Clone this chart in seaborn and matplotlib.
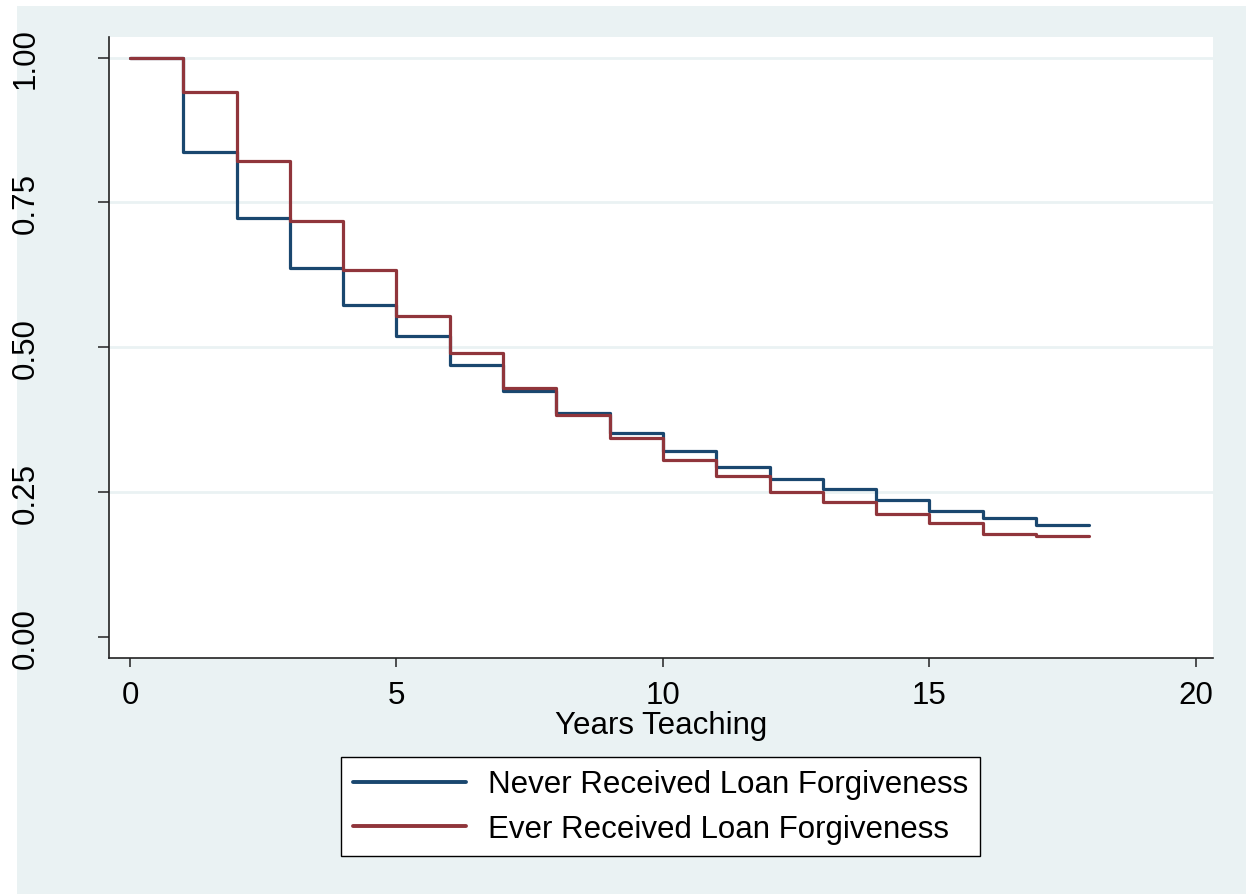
import numpy as np
import pandas as pd
import matplotlib
matplotlib.use("Agg")
import matplotlib.pyplot as plt
from matplotlib.patches import Rectangle
import seaborn as sns

# ---- data ----
years = list(range(0, 19))
never_vals = [1.000, 0.837, 0.724, 0.637, 0.573, 0.520, 0.470, 0.425, 0.387,
              0.353, 0.321, 0.293, 0.273, 0.255, 0.237, 0.218, 0.206, 0.194]
ever_vals = [1.000, 0.940, 0.821, 0.718, 0.634, 0.555, 0.491, 0.430, 0.383,
             0.343, 0.306, 0.279, 0.251, 0.233, 0.212, 0.197, 0.178, 0.174]
series_names = ["Never Received Loan Forgiveness", "Ever Received Loan Forgiveness"]
x_ticks = [0, 5, 10, 15, 20]
y_ticks = [0.00, 0.25, 0.50, 0.75, 1.00]
y_tick_labels = ["0.00", "0.25", "0.50", "0.75", "1.00"]
x_label = "Years Teaching"

rows = []
for name, vals in zip(series_names, [never_vals, ever_vals]):
    full = vals + [vals[-1]]
    for x, v in zip(years, full):
        rows.append({"year": x, "surv": v, "group": name})
df = pd.DataFrame(rows)

sns.set_style("white")
plt.rcParams["font.family"] = ["Liberation Sans", "DejaVu Sans"]
plt.rcParams["text.color"] = "black"
plt.rcParams["axes.labelcolor"] = "black"
plt.rcParams["xtick.color"] = "black"
plt.rcParams["ytick.color"] = "black"

FS = 22.5
BG = "#EAF2F3"
fig = plt.figure(figsize=(12.46, 8.95), dpi=100, facecolor="white")
fig.patches.append(Rectangle((17 / 1246, 0), 1 - 17 / 1246, 1 - 7 / 895,
                             transform=fig.transFigure, facecolor=BG,
                             edgecolor="none", zorder=-10))

W, H = 1246, 895
ax = fig.add_axes([109 / W, 1 - 659 / H, (1213 - 109) / W, (659 - 38) / H])
ax.set_facecolor("white")

sns.lineplot(data=df, x="year", y="surv", hue="group", hue_order=series_names,
             palette=["#1A476F", "#90353B"], estimator=None,
             drawstyle="steps-post", linewidth=2.3, ax=ax)

handles, labels = ax.get_legend_handles_labels()
ax.get_legend().remove()

ax.set_xlim(-0.394, 20.32)
ax.set_ylim(-0.0357, 1.0354)
ax.set_xticks(x_ticks)
ax.set_xticklabels([str(t) for t in x_ticks])
ax.set_yticks(y_ticks)
ax.set_yticklabels(y_tick_labels, rotation=90, va="center")

for yv in y_ticks[1:]:
    ax.axhline(yv, color=BG, linewidth=2.0, zorder=0)

for s in ["top", "right"]:
    ax.spines[s].set_visible(False)
for s in ["left", "bottom"]:
    ax.spines[s].set_color("#222222")
    ax.spines[s].set_linewidth(1.2)

ax.tick_params(axis="x", direction="out", length=6.5, width=1.1, color="#222222",
               labelsize=FS, labelcolor="black", pad=9, bottom=True)
ax.tick_params(axis="y", direction="out", length=8, width=1.1, color="#222222",
               labelsize=FS, labelcolor="black", pad=41, left=True)
ax.set_xlabel(x_label, fontsize=FS, labelpad=0, color="black")
ax.set_ylabel("")

leg = fig.legend(handles, labels, loc="center",
                 bbox_to_anchor=(660.5 / W, 1 - 807.5 / H),
                 fontsize=FS, frameon=True, fancybox=False,
                 edgecolor="black", facecolor="white", framealpha=1,
                 handlelength=3.6, handletextpad=0.7, borderpad=0.4,
                 labelspacing=0.45)
leg.get_frame().set_linewidth(1.0)
for t in leg.get_texts():
    t.set_color("black")
for h in leg.get_lines():
    h.set_linewidth(2.8)

fig.savefig("out.png", dpi=100, facecolor=fig.get_facecolor())
